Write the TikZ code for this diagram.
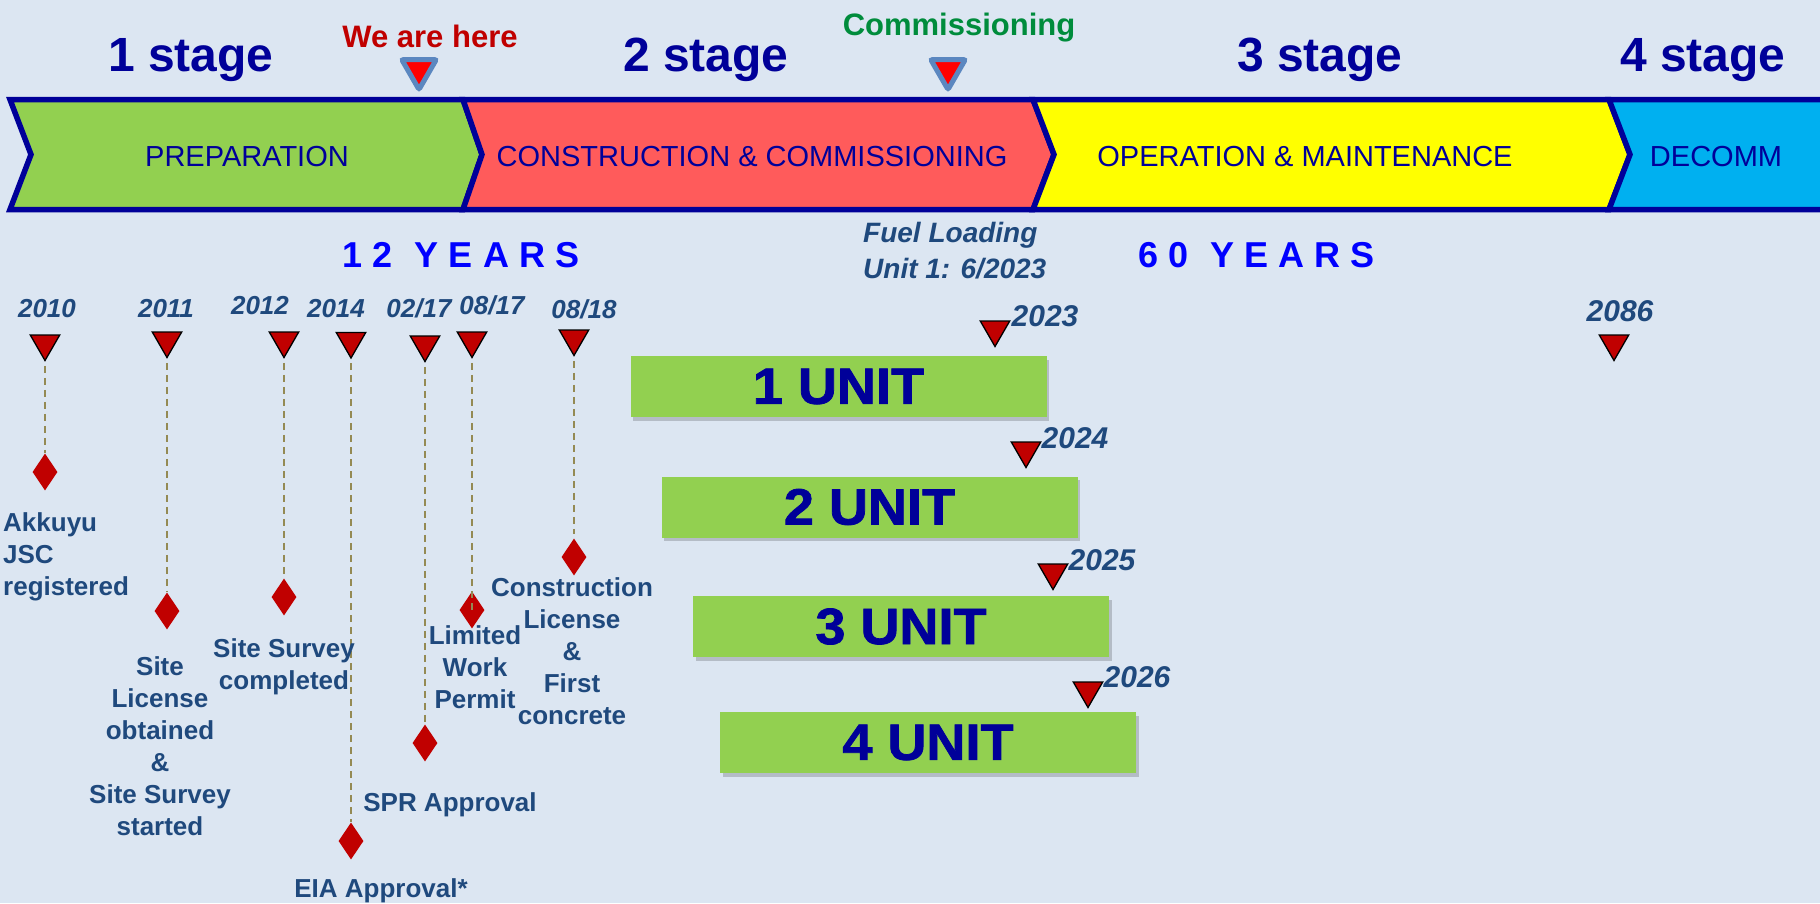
\documentclass[tikz,border=0pt]{standalone}
\usepackage{fontspec}
\setmainfont{Liberation Sans}
\newfontfamily\unitfont[FakeBold=1.5,FakeStretch=1.06]{Liberation Sans}
\usetikzlibrary{shapes.geometric,shadows}
\definecolor{bgc}{HTML}{DCE6F2}
\definecolor{dblue}{HTML}{000099}
\definecolor{labc}{HTML}{1F497D}
\definecolor{tred}{HTML}{C00000}
\definecolor{ugreen}{HTML}{92D050}
\definecolor{sred}{HTML}{FF5B5B}
\definecolor{syellow}{HTML}{FFFF00}
\definecolor{scyan}{HTML}{00B0F0}
\definecolor{olivec}{HTML}{948A54}
\definecolor{mblue}{HTML}{5B87C0}
\definecolor{commg}{HTML}{008C3C}
\definecolor{yblue}{HTML}{0000FF}
\tikzset{
  lbl/.style={font=\fontsize{26}{32}\selectfont\bfseries, text=labc, align=center, inner sep=0pt},
  yr/.style={font=\fontsize{26}{30}\selectfont\bfseries\itshape, text=labc, inner sep=0pt, anchor=base},
  uyr/.style={font=\fontsize{30}{34}\selectfont\bfseries\itshape, text=labc, inner sep=0pt, anchor=base},
  tri/.style={regular polygon, regular polygon sides=3, shape border rotate=180, fill=tred, draw=black, line width=1.3pt, minimum size=34pt, inner sep=0pt},
  dia/.style={diamond, fill=tred, minimum width=25pt, minimum height=37pt, inner sep=0pt},
  dsh/.style={draw=olivec, line width=2.2pt, dash pattern=on 7pt off 5pt, shorten <=4pt},
  unitbox/.style={fill=ugreen, minimum width=416pt, minimum height=61pt, inner sep=0pt,
    drop shadow={shadow xshift=2.5pt, shadow yshift=-3.5pt, fill=black, opacity=0.18},
    font=\unitfont\bfseries\fontsize{51}{51}\selectfont, text=dblue},
  stagelbl/.style={font=\fontsize{48}{50}\selectfont\bfseries, text=dblue, inner sep=0pt, anchor=base},
  bantext/.style={font=\fontsize{29}{30}\selectfont, text=dblue, inner sep=0pt, anchor=base},
  seg/.style={draw=dblue, line width=5.5pt, line join=miter},
  marker/.style={regular polygon, regular polygon sides=3, shape border rotate=180, fill=red, draw=mblue, line width=5pt, rounded corners=2pt, minimum size=40pt, inner sep=0pt},
  yearsfont/.style={font=\fontsize{36}{36}\selectfont\bfseries, text=yblue, inner sep=0pt, anchor=base}
}
\begin{document}
\begin{tikzpicture}[x=1pt,y=-1pt]
\useasboundingbox (0,0) rectangle (1820,903);
\fill[bgc] (0,0) rectangle (1820,903);

% banner segments
\def\ty{99.5}\def\by{209.5}\def\my{154.5}
\filldraw[seg, fill=ugreen] (10,\ty) -- (463,\ty) -- (482,\my) -- (463,\by) -- (10,\by) -- (31,\my) -- cycle;
\filldraw[seg, fill=sred] (463,\ty) -- (1033,\ty) -- (1054,\my) -- (1033,\by) -- (463,\by) -- (482,\my) -- cycle;
\filldraw[seg, fill=syellow] (1033,\ty) -- (1609,\ty) -- (1630,\my) -- (1609,\by) -- (1033,\by) -- (1054,\my) -- cycle;
\filldraw[seg, fill=scyan] (1609,\ty) -- (1830,\ty) -- (1830,\by) -- (1609,\by) -- (1630,\my) -- cycle;

\node[bantext] (prep) at (247,166) {PREPARATION};
\node[bantext] (cons) at (752,166) {CONSTRUCTION \& COMMISSIONING};
\node[bantext] (oper) at (1305,166) {OPERATION \& MAINTENANCE};
\node[bantext] (deco) at (1716,166) {DECOMM};

% stage labels
\node[stagelbl] (s1) at (191,71) {1 stage};
\node[stagelbl] (s2) at (706,71) {2 stage};
\node[stagelbl] (s3) at (1320,71) {3 stage};
\node[stagelbl] (s4) at (1703,71) {4 stage};
\node[font=\fontsize{31}{32}\selectfont\bfseries, text=tred, inner sep=0pt, anchor=base] (here) at (430,47) {We are here};
\node[font=\fontsize{31}{32}\selectfont\bfseries, text=commg, inner sep=0pt, anchor=base] (comm) at (959,35) {Commissioning};
\node[marker] (mhere) at (419,69.5) {};
\node[marker] (mcomm) at (948,69.5) {};

% years bands
\node[yearsfont] (y12) at (461,267) {1\kern10pt 2\kern22pt Y\kern10pt E\kern10pt A\kern10pt R\kern10pt S};
\node[yearsfont] (y60) at (1256.5,267) {6\kern10pt 0\kern22pt Y\kern10pt E\kern10pt A\kern10pt R\kern10pt S};
\node[font=\fontsize{28}{36}\selectfont\bfseries\itshape, text=labc, inner sep=0pt, align=left, anchor=north west] (fuel) at (863,222) {Fuel Loading\\Unit 1: 6/2023};

% milestone years
\node[yr] (l2010) at (47,317) {2010};
\node[yr] (l2011) at (166,317) {2011};
\node[yr] (l2012) at (260,314) {2012};
\node[yr] (l2014) at (336,317) {2014};
\node[yr] (l0217) at (419,317) {02/17};
\node[yr] (l0817) at (492,314) {08/17};
\node[yr] (l0818) at (584,318) {08/18};

% triangles
\node[tri] (t2010) at (45,343.5) {};
\node[tri] (t2011) at (167,340.5) {};
\node[tri] (t2012) at (284,340.5) {};
\node[tri] (t2014) at (351,341) {};
\node[tri] (t0217) at (425,344.5) {};
\node[tri] (t0817) at (472,340.5) {};
\node[tri] (t0818) at (574,338.5) {};

% diamonds
\node[dia] (d2010) at (45,472) {};
\node[dia] (d2011) at (167,611) {};
\node[dia] (d2012) at (284,597) {};
\node[dia] (d2014) at (351,841) {};
\node[dia] (d0217) at (425,743) {};
\node[dia] (d0817) at (472,610) {};
\node[dia] (d0818) at (574,557) {};

% dashed connectors
\draw[dsh] (t2010.corner 1) -- (d2010.north);
\draw[dsh] (t2011.corner 1) -- (d2011.north);
\draw[dsh] (t2012.corner 1) -- (d2012.north);
\draw[dsh] (t2014.corner 1) -- (d2014.north);
\draw[dsh] (t0217.corner 1) -- (d0217.north);
\draw[dsh] (t0817.corner 1) -- (d0817.center);
\draw[dsh, shorten >=4pt] (t0818.corner 1) -- (d0818.north);

% milestone labels
\node[lbl, align=left, anchor=north west] (a2010) at (3,512) {Akkuyu\\JSC\\registered};
\node[lbl, anchor=north] (a2011) at (160,656) {Site\\License\\obtained\\\&\\Site Survey\\started};
\node[lbl, anchor=north] (a2012) at (284,638) {Site Survey\\completed};
\node[lbl, anchor=north] (a2014) at (381,878) {EIA Approval*};
\node[lbl, anchor=north] (a0217) at (450,792) {SPR Approval};
\node[lbl, anchor=north] (a0817) at (475,625) {Limited\\Work\\Permit};
\node[lbl, anchor=north] (a0818) at (572,577) {Construction\\License\\\&\\First\\concrete};

% unit boxes
\node[unitbox] (u1) at (838.5,386.5) {1 UNIT};
\node[unitbox] (u2) at (869.5,507) {2 UNIT};
\node[unitbox] (u3) at (901,626.5) {3 UNIT};
\node[unitbox] (u4) at (928,742.5) {4 UNIT};

% unit year markers
\node[tri] (t2023) at (995,329.5) {};
\node[tri] (t2024) at (1026,450.5) {};
\node[tri] (t2025) at (1053,572.5) {};
\node[tri] (t2026) at (1088,690.5) {};
\node[tri] (t2086) at (1614,343.5) {};
\node[uyr] (l2023) at (1045,326) {2023};
\node[uyr] (l2024) at (1075,448) {2024};
\node[uyr] (l2025) at (1102,570) {2025};
\node[uyr] (l2026) at (1137,687) {2026};
\node[uyr] (l2086) at (1620,321) {2086};
\end{tikzpicture}
\end{document}
